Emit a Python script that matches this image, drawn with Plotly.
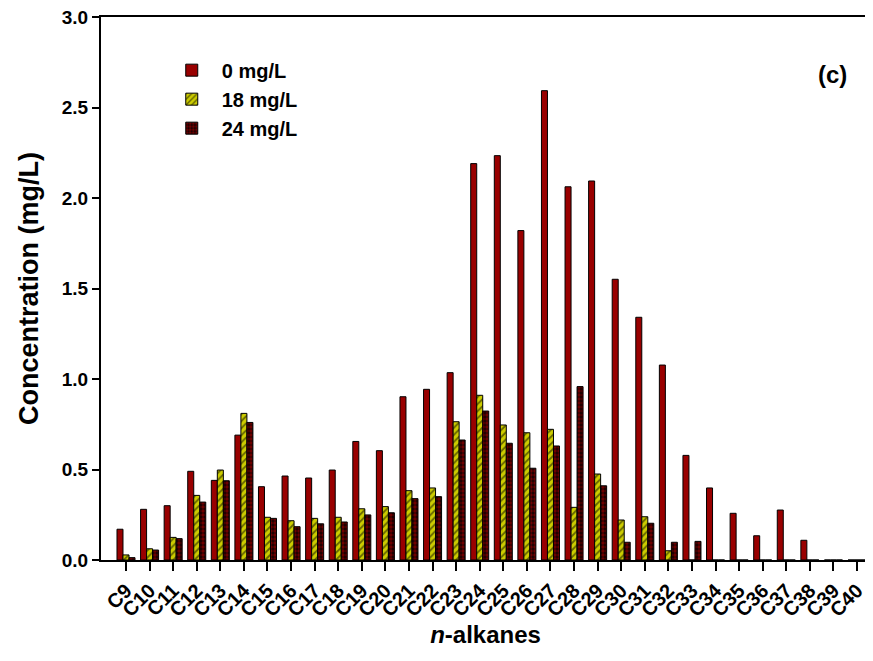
import plotly.graph_objects as go

categories = ["C%d" % i for i in range(9, 41)]

conc_0 = [0.17, 0.28, 0.30, 0.49, 0.44, 0.69, 0.405, 0.464, 0.453, 0.497,
          0.655, 0.604, 0.902, 0.943, 1.035, 2.19, 2.234, 1.82, 2.593, 2.062,
          2.094, 1.551, 1.341, 1.077, 0.578, 0.398, 0.258, 0.134, 0.276, 0.109,
          0.0, 0.0]
conc_18 = [0.028, 0.062, 0.125, 0.357, 0.497, 0.81, 0.236, 0.217, 0.23, 0.236,
           0.283, 0.295, 0.383, 0.398, 0.764, 0.91, 0.746, 0.703, 0.722, 0.291,
           0.475, 0.221, 0.239, 0.051, 0.0, 0.0, 0.0, 0.0, 0.0, 0.0,
           0.0, 0.0]
conc_24 = [0.013, 0.055, 0.118, 0.32, 0.438, 0.76, 0.23, 0.184, 0.20, 0.21,
           0.249, 0.261, 0.339, 0.35, 0.663, 0.823, 0.645, 0.507, 0.63, 0.958,
           0.41, 0.098, 0.203, 0.098, 0.103, 0.0, 0.0, 0.0, 0.0, 0.0,
           0.0, 0.0]

series_names = ["0 mg/L", "18 mg/L", "24 mg/L"]

FONT = "Liberation Sans, Arial, sans-serif"
RED = "#990000"
YEL = "#cccc00"

fig = go.Figure()
fig.add_trace(go.Bar(x=categories, y=conc_0, name=series_names[0],
                     marker=dict(color=RED, line=dict(color="black", width=1))))
fig.add_trace(go.Bar(x=categories, y=conc_18, name=series_names[1],
                     marker=dict(color=YEL, line=dict(color="black", width=1),
                                 pattern=dict(shape="/", fgcolor="black", bgcolor=YEL,
                                              size=5, solidity=0.35))))
fig.add_trace(go.Bar(x=categories, y=conc_24, name=series_names[2],
                     marker=dict(color=RED, line=dict(color="black", width=1),
                                 pattern=dict(shape=".", fgcolor="#c00000", bgcolor="#1a0000",
                                              size=4, solidity=0.55))))

# page body has an 8px margin, so the figure is offset by 8px
fig.update_layout(
    width=865, height=653,
    margin=dict(l=93, r=3, t=9, b=101, autoexpand=False),
    paper_bgcolor="white", plot_bgcolor="white",
    barmode="group", bargap=0.236, bargroupgap=0,
    font=dict(family=FONT, size=19, color="black", weight="bold"),
    showlegend=True,
    legend=dict(x=0.079, y=0.938, xanchor="left", yanchor="top",
                bgcolor="rgba(0,0,0,0)", font=dict(size=20, weight="bold"),
                itemwidth=50),
    annotations=[dict(text="<b>(c)</b>", x=0.973, y=0.922, xref="paper", yref="paper",
                      xanchor="right", showarrow=False, font=dict(size=24, family=FONT))],
)
fig.update_xaxes(
    type="category", range=[-1.06, 31.55], automargin=False,
    tickmode="array", tickvals=categories, ticktext=categories,
    showline=True, linecolor="black", linewidth=2, mirror=True,
    ticks="outside", ticklen=9, tickwidth=2, tickcolor="black",
    tickangle=-45, tickfont=dict(size=20, family=FONT, weight="bold"),
    showgrid=False, zeroline=False,
    title=dict(text="<b><i>n</i>-alkanes</b>", font=dict(size=24, family=FONT), standoff=6),
)
fig.update_yaxes(
    range=[0, 3], dtick=0.5, tickformat=".1f", automargin=False,
    ticklabeloverflow="allow",
    showline=True, linecolor="black", linewidth=2, mirror=False,
    ticks="outside", ticklen=7, tickwidth=2, tickcolor="black",
    tickfont=dict(size=19, family=FONT, weight="bold"),
    showgrid=False, zeroline=False,
    title=dict(text="<b>Concentration (mg/L)</b>", font=dict(size=27, family=FONT), standoff=15),
)

fig.write_html("out.html")
